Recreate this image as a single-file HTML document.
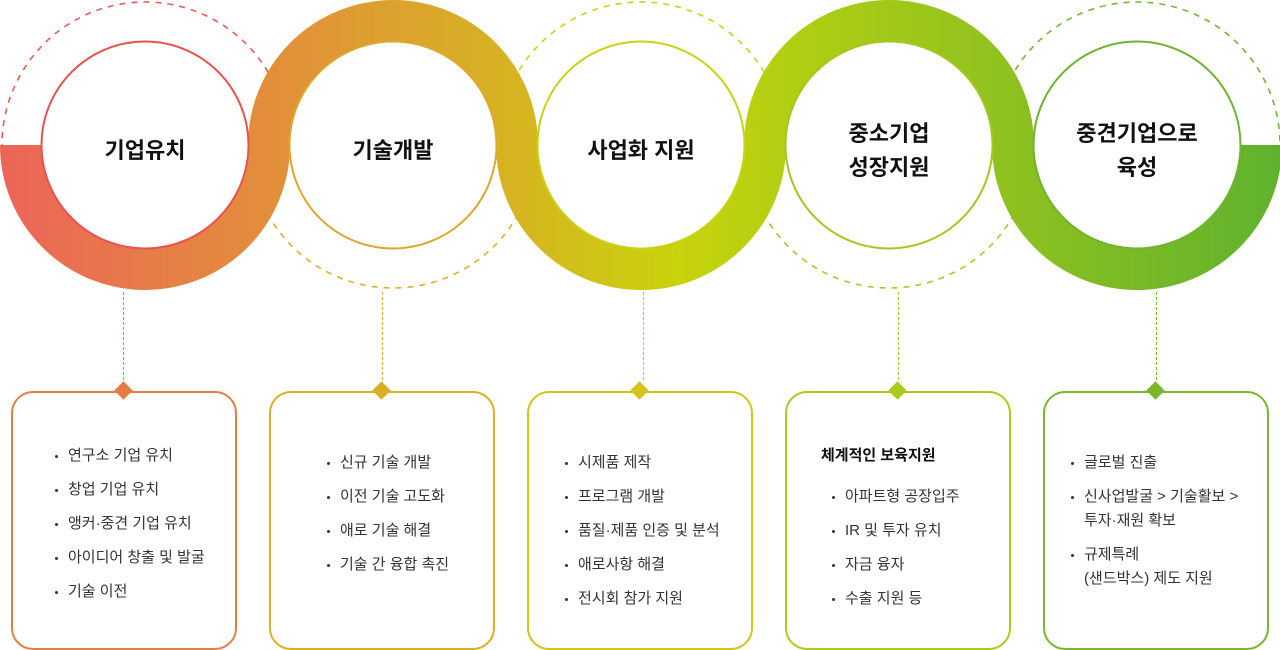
<!DOCTYPE html>
<html><head><meta charset="utf-8"><style>
body{margin:0;width:1280px;height:650px;background:#fff;position:relative;overflow:hidden;font-family:"Liberation Sans","Noto Sans CJK KR",sans-serif}
.t{position:absolute;font-weight:bold;font-size:22px;color:#111;text-align:center;width:200px;line-height:34px}
.box{position:absolute;top:391px;width:222px;height:255px;border:2px solid;border-radius:22px;background:#fff;box-sizing:content-box}
.dm{position:absolute;top:384px;width:13px;height:13px;transform:rotate(45deg)}
.vl{position:absolute;top:292px;height:88px;border-left:1px dashed}
.l{position:absolute;font-size:15px;color:#333;white-space:nowrap;line-height:20px}
.l:before{content:"";position:absolute;left:-13px;top:9px;width:3px;height:3px;border-radius:50%;background:#333}
.nb:before{display:none}
.h{position:absolute;font-size:15px;color:#111;font-weight:bold;line-height:20px}
</style></head><body>
<svg width="1280" height="650" style="position:absolute;left:0;top:0">
<defs><linearGradient id="g" gradientUnits="userSpaceOnUse" x1="0" y1="0" x2="1280" y2="0">
<stop offset="0" stop-color="#ec6459"/><stop offset="0.22" stop-color="#e2903a"/><stop offset="0.4" stop-color="#d6b421"/><stop offset="0.53" stop-color="#c8d30c"/><stop offset="0.65" stop-color="#aacc15"/><stop offset="0.8" stop-color="#8cc020"/><stop offset="1" stop-color="#5fb22e"/></linearGradient></defs>
<g fill="none" stroke-width="1.6" stroke-dasharray="6 6">
<circle cx="145" cy="145" r="143" stroke="#ec5a55"/>
<circle cx="393" cy="145" r="143" stroke="#d9b229"/>
<circle cx="641" cy="145" r="143" stroke="#c8d21a"/>
<circle cx="889" cy="145" r="143" stroke="#a8c826"/>
<circle cx="1137" cy="145" r="143" stroke="#74b632"/>
</g>
<g fill="none" stroke="url(#g)" stroke-width="41">
<path d="M20.5 145 A124.5 124.5 0 0 0 269.5 145"/>
<path d="M268.5 145 A124.5 124.5 0 0 1 517.5 145"/>
<path d="M516.5 145 A124.5 124.5 0 0 0 765.5 145"/>
<path d="M764.5 145 A124.5 124.5 0 0 1 1013.5 145"/>
<path d="M1012.5 145 A124.5 124.5 0 0 0 1261.5 145"/>
</g>
<g fill="#fff" stroke-width="2">
<circle cx="145" cy="145" r="103.5" stroke="#e8524f"/>
<circle cx="393" cy="145" r="103.5" stroke="#dea72e"/>
<circle cx="641" cy="145" r="103.5" stroke="#c8d315"/>
<circle cx="889" cy="145" r="103.5" stroke="#a4c822"/>
<circle cx="1137" cy="145" r="103.5" stroke="#6eb42f"/>
</g>
</svg>
<div class="t" style="left:45px;top:134px">기업유치</div>
<div class="t" style="left:293px;top:134px">기술개발</div>
<div class="t" style="left:541px;top:134px">사업화 지원</div>
<div class="t" style="left:789px;top:117px">중소기업<br>성장지원</div>
<div class="t" style="left:1037px;top:117px">중견기업으로<br>육성</div>

<div class="vl" style="left:123px;border-color:#e57d45"></div>
<div class="vl" style="left:382px;border-color:#dcae25"></div>
<div class="vl" style="left:643px;border-color:#d2c418"></div>
<div class="vl" style="left:898px;border-color:#a8cb1c"></div>
<div class="vl" style="left:1156px;border-color:#7ab82a"></div>

<div class="box" style="left:11px;border-color:#e57d45"></div>
<div class="box" style="left:269px;border-color:#dcae25"></div>
<div class="box" style="left:527px;border-color:#d2c418"></div>
<div class="box" style="left:785px;border-color:#a8cb1c"></div>
<div class="box" style="left:1043px;border-color:#7ab82a"></div>
<div class="dm" style="left:117px;background:#e57d45"></div>
<div class="dm" style="left:375px;background:#dcae25"></div>
<div class="dm" style="left:633px;background:#d2c418"></div>
<div class="dm" style="left:891px;background:#a8cb1c"></div>
<div class="dm" style="left:1149px;background:#7ab82a"></div>

<div class="l" style="left:68px;top:446px">연구소 기업 유치</div>
<div class="l" style="left:68px;top:480px">창업 기업 유치</div>
<div class="l" style="left:68px;top:514px">앵커·중견 기업 유치</div>
<div class="l" style="left:68px;top:548px">아이디어 창출 및 발굴</div>
<div class="l" style="left:68px;top:582px">기술 이전</div>

<div class="l" style="left:340px;top:453px">신규 기술 개발</div>
<div class="l" style="left:340px;top:487px">이전 기술 고도화</div>
<div class="l" style="left:340px;top:521px">애로 기술 해결</div>
<div class="l" style="left:340px;top:555px">기술 간 융합 촉진</div>

<div class="l" style="left:578px;top:453px">시제품 제작</div>
<div class="l" style="left:578px;top:487px">프로그램 개발</div>
<div class="l" style="left:578px;top:521px">품질·제품 인증 및 분석</div>
<div class="l" style="left:578px;top:555px">애로사항 해결</div>
<div class="l" style="left:578px;top:589px">전시회 참가 지원</div>

<div class="h" style="left:821px;top:446px">체계적인 보육지원</div>
<div class="l" style="left:845px;top:487px">아파트형 공장입주</div>
<div class="l" style="left:845px;top:521px">IR 및 투자 유치</div>
<div class="l" style="left:845px;top:555px">자금 융자</div>
<div class="l" style="left:845px;top:589px">수출 지원 등</div>

<div class="l" style="left:1084px;top:453px">글로벌 진출</div>
<div class="l" style="left:1084px;top:487px">신사업발굴 &gt; 기술활보 &gt;</div>
<div class="l nb" style="left:1084px;top:511px">투자·재원 확보</div>
<div class="l" style="left:1084px;top:545px">규제특례</div>
<div class="l nb" style="left:1084px;top:569px">(샌드박스) 제도 지원</div>
</body></html>
